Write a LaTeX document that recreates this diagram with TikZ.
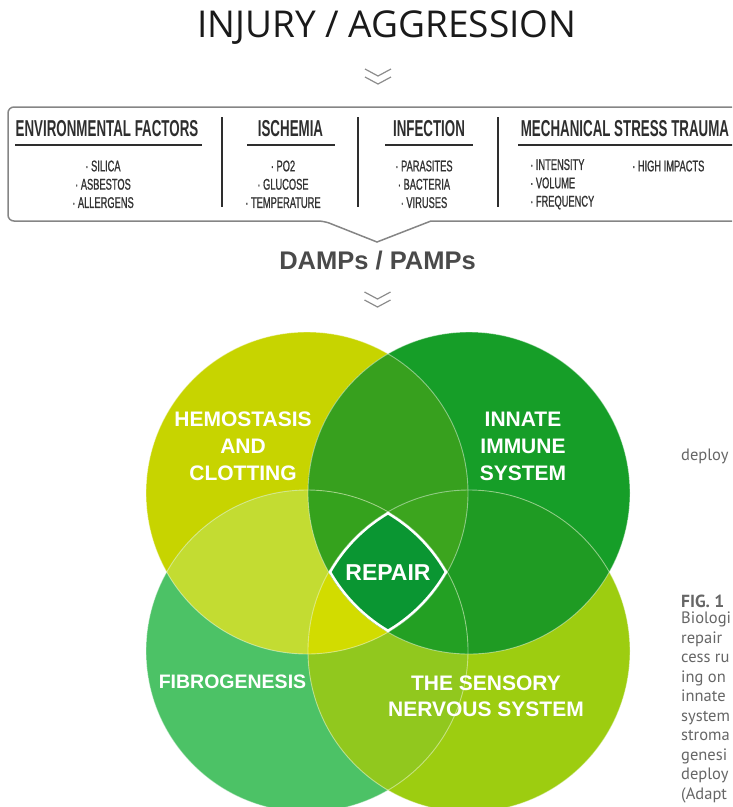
\documentclass[tikz,border=0pt]{standalone}
\usepackage{fontspec}
\setmainfont{PT Sans}
\newfontfamily\titlefont{Open Sans}
\newfontfamily\condfont[FakeStretch=0.58]{Liberation Sans}
\newfontfamily\itemfont[FakeStretch=0.6, FakeBold=0.9]{Liberation Sans}
\newfontfamily\vennfont{Liberation Sans}

\definecolor{titlecol}{HTML}{1A1A1A}
\definecolor{headgray}{HTML}{2E2E2E}
\definecolor{itemgray}{HTML}{333333}
\definecolor{boxgray}{HTML}{858585}
\definecolor{chevgray}{HTML}{8C8C8C}
\definecolor{dampgray}{HTML}{4A4A4A}
\definecolor{capgray}{HTML}{666666}

\definecolor{hemocol}{HTML}{C7D400}
\definecolor{innatecol}{HTML}{169E28}
\definecolor{fibrocol}{HTML}{4CC266}
\definecolor{senscol}{HTML}{9DCD10}
\definecolor{hicol}{HTML}{37A01E}
\definecolor{hfcol}{HTML}{C3DC32}
\definecolor{iscol}{HTML}{1F9B23}
\definecolor{fscol}{HTML}{91C81E}
\definecolor{hifcol}{HTML}{35A21D}
\definecolor{hiscol}{HTML}{3CA51E}
\definecolor{hfscol}{HTML}{D2DC00}
\definecolor{ifscol}{HTML}{23A023}
\definecolor{repaircol}{HTML}{0A9632}

\newcommand{\vennrad}{161}

\begin{document}
\begin{tikzpicture}[x=1pt, y=-1pt,
  colhead/.style={font={\condfont\bfseries\fontsize{23}{23}\selectfont}, text=headgray, inner sep=0pt},
  colitem/.style={font={\itemfont\fontsize{15.5}{18.3}\selectfont}, text=itemgray, inner sep=0pt, align=center},
  headrule/.style={draw=headgray, line width=1.3pt},
  divider/.style={draw=headgray, line width=2.6pt},
  chevron/.style={draw=chevgray, line width=1.2pt},
  vennlabel/.style={font={\vennfont\bfseries\fontsize{21}{27}\selectfont}, text=white, align=center, inner sep=0pt},
  capline/.style={font={\fontsize{16.5}{19.5}\selectfont}, text=capgray, inner sep=0pt, anchor=west}]
  \useasboundingbox (0,0) rectangle (732,807);
  \clip (0,0) rectangle (732,807);

  \node[font={\titlefont\fontsize{37}{37}\selectfont}, text=titlecol] (title) at (387,27.5) {INJURY / AGGRESSION};
  \draw[chevron] (365,69) -- (378,76) -- (391,69);
  \draw[chevron] (365,77) -- (378,84) -- (391,77);

  % causes box
  \draw[draw=boxgray, line width=1.5pt] (745,107) [rounded corners=6] -- (8,107) -- (8,221) -- (324,221)
    [sharp corners] -- (377,242) -- (431,221) -- (745,221);

  \node[colhead] (envhead) at (107,129) {ENVIRONMENTAL FACTORS};
  \node[colhead] (ischhead) at (290.5,129) {ISCHEMIA};
  \node[colhead] (infhead) at (429,129) {INFECTION};
  \node[colhead] (mechhead) at (625,129) {MECHANICAL STRESS TRAUMA};

  \draw[headrule] (15,145) -- (202,145);
  \draw[headrule] (247,145) -- (335,145);
  \draw[headrule] (385,145) -- (473,145);
  \draw[headrule] (518,145) -- (740,145);

  \draw[divider] (222,117) -- (222,207);
  \draw[divider] (358,117) -- (358,207);
  \draw[divider] (498,117) -- (498,207);

  \node[colitem] (envlist) at (103,184.3) {·\,SILICA\\·\,ASBESTOS\\·\,ALLERGENS};
  \node[colitem] (ischlist) at (283,184.3) {·\,PO2\\·\,GLUCOSE\\·\,TEMPERATURE};
  \node[colitem] (inflist) at (424,184.3) {·\,PARASITES\\·\,BACTERIA\\·\,VIRUSES};
  \node[colitem, align=left, anchor=west] (mechlist) at (530,184.3) {·\,INTENSITY\\·\,VOLUME\\·\,FREQUENCY};
  \node[colitem, anchor=west] (mechhigh) at (632,166) {·\,HIGH IMPACTS};

  \node[font={\vennfont\bfseries\fontsize{25.5}{25.5}\selectfont}, text=dampgray] (damps) at (377.5,261) {DAMPs / PAMPs};
  \draw[chevron] (364.5,292) -- (377.5,299) -- (390.5,292);
  \draw[chevron] (364.5,300) -- (377.5,307) -- (390.5,300);

  % venn circles
  \coordinate (hemo) at (307,493);
  \coordinate (innate) at (469,493);
  \coordinate (fibro) at (307,651);
  \coordinate (sens) at (469,651);

  \fill[hemocol] (hemo) circle (\vennrad);
  \fill[innatecol] (innate) circle (\vennrad);
  \fill[fibrocol] (fibro) circle (\vennrad);
  \fill[senscol] (sens) circle (\vennrad);

  \foreach \a/\b/\col in {hemo/innate/hicol, hemo/fibro/hfcol, innate/sens/iscol, fibro/sens/fscol} {
    \begin{scope}
      \clip (\a) circle (\vennrad);
      \fill[\col] (\b) circle (\vennrad);
    \end{scope}
  }
  \foreach \a/\b/\c/\col in {hemo/innate/fibro/hifcol, hemo/innate/sens/hiscol,
                             hemo/fibro/sens/hfscol, innate/fibro/sens/ifscol} {
    \begin{scope}
      \clip (\a) circle (\vennrad);
      \clip (\b) circle (\vennrad);
      \fill[\col] (\c) circle (\vennrad);
    \end{scope}
  }
  \foreach \c in {hemo,innate,fibro,sens}
    \draw[white, opacity=0.45, line width=0.9pt] (\c) circle (\vennrad);

  \begin{scope}
    \clip (hemo) circle (\vennrad);
    \clip (innate) circle (\vennrad);
    \clip (fibro) circle (\vennrad);
    \clip (sens) circle (\vennrad);
    \fill[repaircol] (300,480) rectangle (480,660);
    \foreach \c in {hemo,innate,fibro,sens}
      \draw[white, line width=5pt] (\c) circle (\vennrad);
  \end{scope}

  \node[vennlabel] (hemolabel) at (243,446.5) {HEMOSTASIS\\AND\\CLOTTING};
  \node[vennlabel] (innatelabel) at (523,446.5) {INNATE\\IMMUNE\\SYSTEM};
  \node[vennlabel, font={\vennfont\bfseries\fontsize{23}{23}\selectfont}] (repair) at (388,572.5) {REPAIR};
  \node[vennlabel, font={\vennfont\bfseries\fontsize{19.5}{19.5}\selectfont}] (fibrolabel) at (232.5,682) {FIBROGENESIS};
  \node[vennlabel, font={\vennfont\bfseries\fontsize{21}{26}\selectfont}] (senslabel) at (486,696) {THE SENSORY\\NERVOUS SYSTEM};

  % caption column along the right edge
  \node[capline] (deploytop) at (681,456) {deploy};
  \node[capline, font={\bfseries\fontsize{17.5}{17.5}\selectfont}] (figno) at (681,601) {FIG. 1};
  \node[capline, anchor=north west, align=left] (capbody) at (681,612)
    {Biologi\\repair\\cess ru\\ing on\\innate\\system\\stroma\\genesi\\deploy\\(Adapt};
\end{tikzpicture}
\end{document}
